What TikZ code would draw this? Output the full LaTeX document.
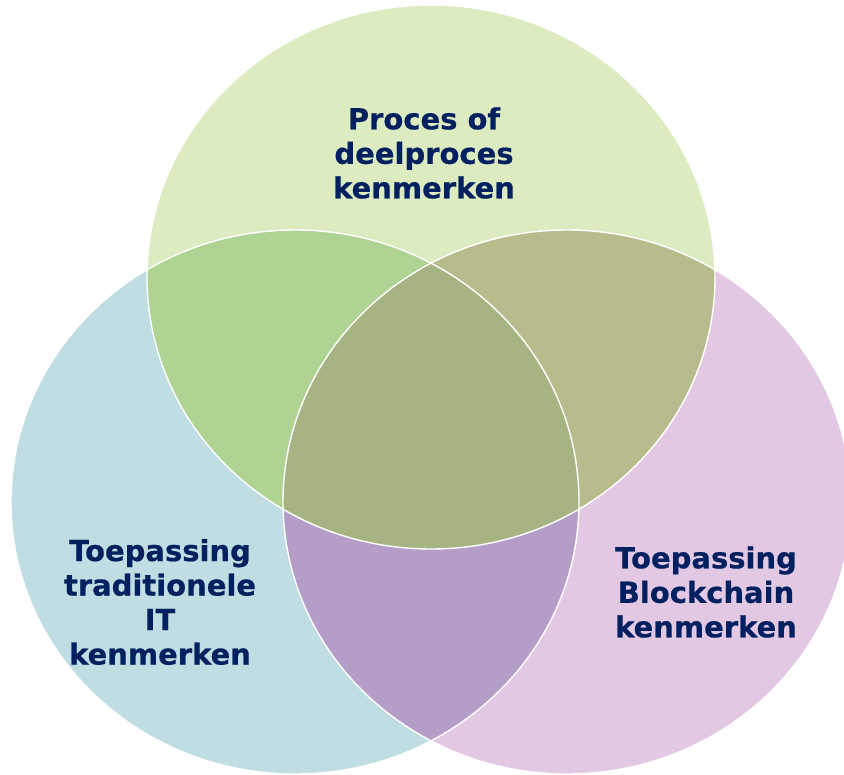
\documentclass[tikz,border=0pt]{standalone}
\usepackage{fontspec}
\setmainfont{DejaVu Sans}[BoldFeatures={FakeBold=0.6}]
\definecolor{cTop}{HTML}{DDEBC0}
\definecolor{cLeft}{HTML}{BFDDE2}
\definecolor{cRight}{HTML}{E2C8E3}
\definecolor{cTL}{HTML}{AED392}
\definecolor{cTR}{HTML}{B8BC8C}
\definecolor{cLR}{HTML}{B49DC6}
\definecolor{cMid}{HTML}{A6B382}
\definecolor{navy}{HTML}{002060}
\tikzset{
  lbl/.style={font=\fontsize{29}{34.5}\selectfont\bfseries, text=navy, align=center, inner sep=0pt},
  rim/.style={draw=white, line width=1.4pt}
}
\begin{document}
\begin{tikzpicture}[x=1pt,y=-1pt]
\useasboundingbox (0,0) rectangle (844,775);
\clip (0,0) rectangle (844,775);
\def\Top{(431,277) ellipse [x radius=284pt, y radius=272pt]}
\def\Lft{(295,502) ellipse [x radius=284pt, y radius=272pt]}
\def\Rgt{(567,502) ellipse [x radius=284pt, y radius=272pt]}
\fill[white] (0,0) rectangle (844,775);
\fill[cTop] \Top;
\fill[cLeft] \Lft;
\fill[cRight] \Rgt;
\begin{scope}
  \clip \Top;
  \fill[cTL] \Lft;
  \fill[cTR] \Rgt;
\end{scope}
\begin{scope}
  \clip \Lft;
  \fill[cLR] \Rgt;
\end{scope}
\begin{scope}
  \clip \Top;
  \clip \Lft;
  \fill[cMid] \Rgt;
\end{scope}
\draw[rim] \Top;
\draw[rim] \Lft;
\draw[rim] \Rgt;
\node[lbl] (proces) at (424,153) {Proces of\\deelproces\\kenmerken};
\node[lbl] (trad) at (160,602) {Toepassing\\traditionele\\IT\\kenmerken};
\node[lbl] (block) at (706,592) {Toepassing\\Blockchain\\kenmerken};
\end{tikzpicture}
\end{document}
